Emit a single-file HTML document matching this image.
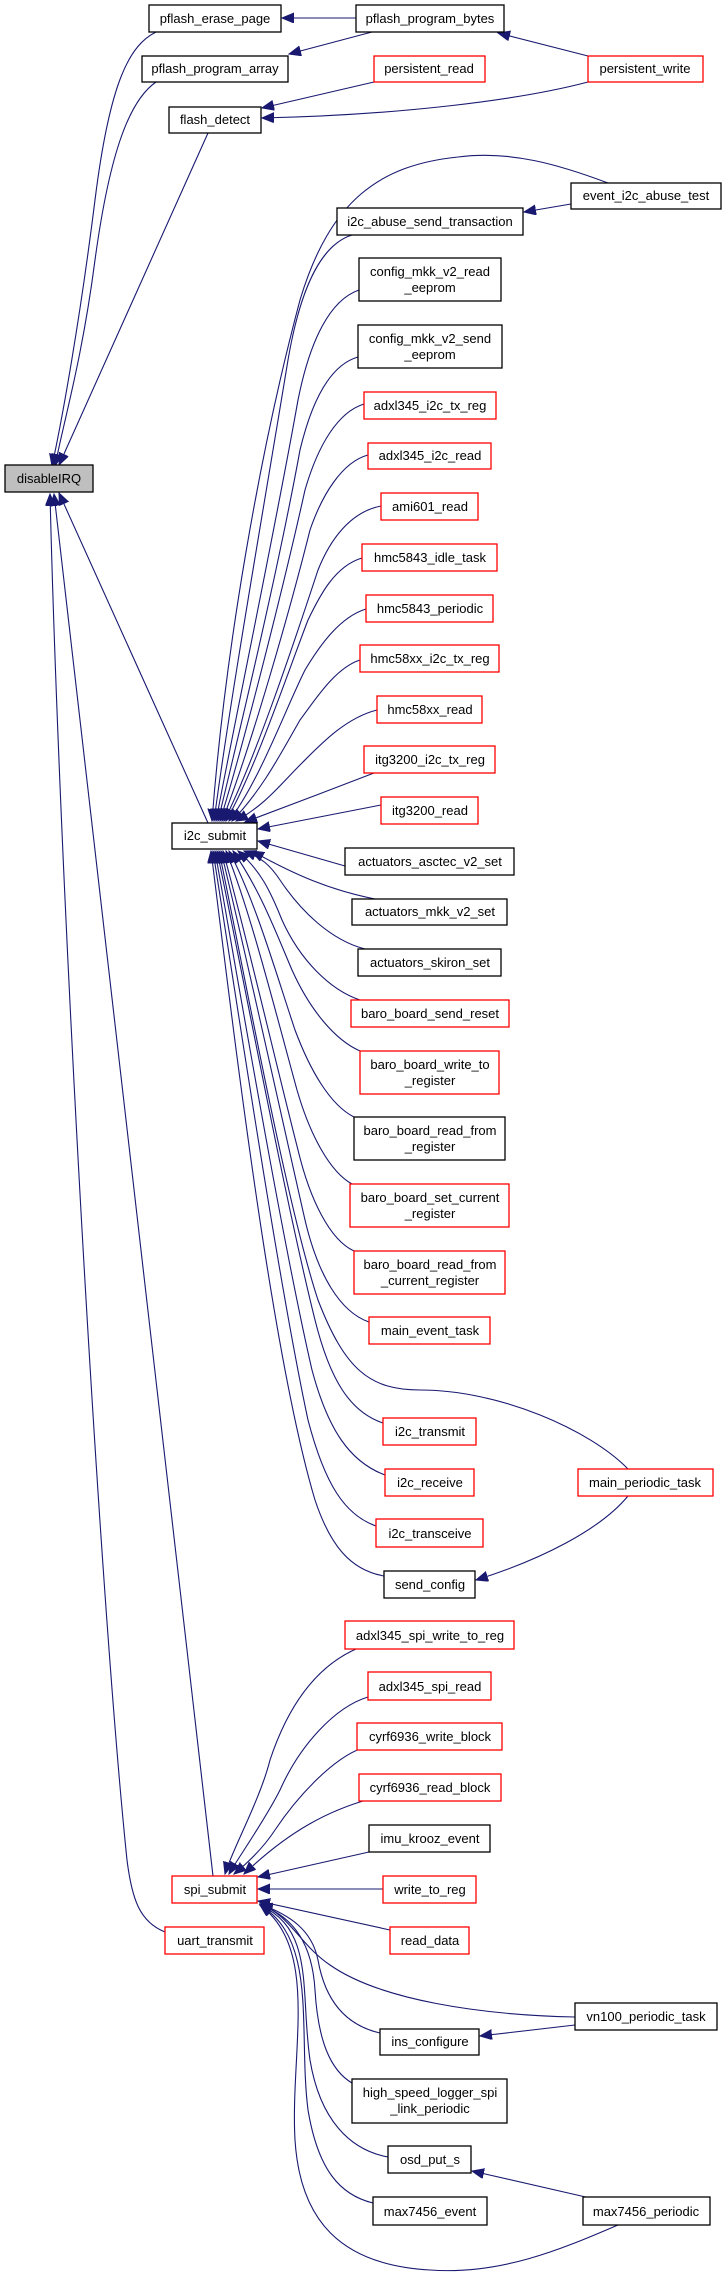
<!DOCTYPE html>
<html><head><meta charset="utf-8"><style>
html,body{margin:0;padding:0;background:#fff;}
svg{display:block;}
text{font-family:"Liberation Sans",sans-serif;font-size:13px;fill:#000;text-anchor:middle;}
.k{fill:#fff;stroke:#000;stroke-width:1.3;}
.r{fill:#fff;stroke:#ff0000;stroke-width:1.3;}
.g{fill:#bfbfbf;stroke:#000;stroke-width:1.3;}
path{fill:none;stroke:#191970;stroke-width:1.1;}
</style></head><body>
<svg width="725" height="2273" viewBox="0 0 725 2273" xmlns="http://www.w3.org/2000/svg">
<defs><marker id="a" markerUnits="userSpaceOnUse" markerWidth="14" markerHeight="12" refX="12" refY="5" orient="auto"><path d="M0,0 L12,5 L0,10 Z" style="fill:#191970;stroke:#191970;stroke-width:1"/></marker></defs>
<g marker-end="url(#a)">
<!-- into disableIRQ -->
<path d="M156,32 C130,45 110,80 95,200 C80,320 62,420 52,466"/>
<path d="M156,82 C130,100 110,150 95,260 C82,360 64,420 55,466"/>
<path d="M208,133 L59,465"/>
<path d="M208,823 L59,493"/>
<path d="M213,1876 L54,494"/>
<path d="M165,1932 C140,1922 132,1900 127,1860 C100,1600 60,900 50,494"/>
<!-- top cluster -->
<path d="M356,18 L282,18"/>
<path d="M372,32 L289,54"/>
<path d="M588,56 L498,33"/>
<path d="M374,82 L262,108"/>
<path d="M588,82 C520,100 400,115 262,118"/>
<path d="M571,204 L524,212"/>
<!-- into i2c_submit -->
<path d="M608,183 C560,165 510,150 458,157 C380,165 330,200 300,300 C260,450 225,650 212,821"/>
<path d="M352,235 C320,245 300,290 288,360 C265,500 230,700 214,821"/>
<path d="M359,290 C330,300 310,340 298,400 C275,530 235,720 216,821"/>
<path d="M358,357 C330,365 312,400 300,450 C280,560 240,730 218,821"/>
<path d="M364,404 C338,412 318,445 305,490 C285,580 245,740 220,821"/>
<path d="M368,455 C342,462 322,495 310,530 C290,610 250,750 222,821"/>
<path d="M381,506 C350,512 330,540 318,570 C295,640 255,760 224,821"/>
<path d="M362,558 C335,566 320,595 308,620 C285,680 255,770 226,821"/>
<path d="M366,609 C340,617 320,645 305,670 C285,710 260,780 229,821"/>
<path d="M360,660 C335,668 315,700 300,720 C280,755 262,790 232,821"/>
<path d="M377,710 C345,718 320,745 300,765 C280,785 265,805 236,821"/>
<path d="M374,773 C330,790 290,805 245,822"/>
<path d="M381,805 L258,829"/>
<path d="M345,866 L258,841"/>
<path d="M375,899 C330,890 295,875 252,851"/>
<path d="M365,949 C330,940 300,910 280,880 C270,865 262,858 244,851"/>
<path d="M360,1000 C330,990 300,960 282,920 C270,890 260,870 238,851"/>
<path d="M360,1051 C335,1040 310,1010 292,970 C275,930 260,890 233,851"/>
<path d="M354,1117 C330,1105 310,1070 295,1030 C275,970 255,900 229,851"/>
<path d="M352,1184 C330,1172 310,1135 297,1090 C275,1010 250,910 226,851"/>
<path d="M354,1251 C330,1240 310,1200 298,1150 C275,1060 245,930 223,851"/>
<path d="M369,1322 C340,1312 318,1275 305,1220 C280,1110 245,950 221,851"/>
<path d="M628,1469 C590,1430 500,1390 420,1390 C370,1390 345,1370 318,1300 C285,1200 240,950 219,851"/>
<path d="M383,1423 C350,1412 330,1380 315,1320 C285,1200 240,960 217,851"/>
<path d="M385,1475 C350,1462 328,1430 312,1370 C282,1240 238,980 215,851"/>
<path d="M376,1526 C345,1515 325,1485 308,1420 C278,1280 235,990 213,851"/>
<path d="M384,1576 C350,1570 330,1545 315,1500 C270,1350 230,1000 211,851"/>
<path d="M628,1496 C600,1530 540,1560 476,1580"/>
<!-- into spi_submit -->
<path d="M356,1649 C320,1665 290,1700 270,1760 C260,1800 232,1850 225,1874"/>
<path d="M368,1697 C335,1707 300,1745 280,1790 C265,1820 240,1855 229,1874"/>
<path d="M362,1748 C330,1760 295,1800 275,1830 C262,1850 245,1865 234,1874"/>
<path d="M370,1799 C330,1810 290,1830 244,1874"/>
<path d="M369,1852 L258,1877"/>
<path d="M383,1889 L258,1889"/>
<path d="M390,1930 L258,1901"/>
<path d="M575,2017 C480,2015 380,2000 330,1965 C300,1945 290,1915 260,1904"/>
<path d="M380,2033 C345,2025 325,2000 318,1960 C312,1930 290,1915 260,1904"/>
<path d="M352,2083 C330,2070 318,2040 315,1990 C312,1940 290,1915 260,1905"/>
<path d="M388,2157 C350,2150 320,2120 310,2060 C300,1990 315,1930 260,1905"/>
<path d="M373,2203 C340,2195 318,2170 308,2110 C298,2030 318,1940 260,1905"/>
<path d="M618,2225 C560,2250 500,2275 430,2270 C340,2265 300,2220 295,2140 C290,2050 320,1950 260,1905"/>
<path d="M575,2025 L480,2036"/>
<path d="M590,2198 L472,2171"/>
</g>
<!-- nodes -->
<rect class="g" x="5" y="465" width="88" height="27"/><text x="49" y="483">disableIRQ</text>
<rect class="k" x="149" y="5" width="132" height="27"/><text x="215" y="23">pflash_erase_page</text>
<rect class="k" x="356" y="5" width="148" height="27"/><text x="430" y="23">pflash_program_bytes</text>
<rect class="k" x="142" y="56" width="146" height="26"/><text x="215" y="73">pflash_program_array</text>
<rect class="r" x="374" y="56" width="111" height="26"/><text x="429" y="73">persistent_read</text>
<rect class="r" x="588" y="56" width="115" height="26"/><text x="645" y="73">persistent_write</text>
<rect class="k" x="169" y="107" width="92" height="26"/><text x="215" y="124">flash_detect</text>
<rect class="k" x="571" y="183" width="150" height="26"/><text x="646" y="200">event_i2c_abuse_test</text>
<rect class="k" x="337" y="208" width="186" height="27"/><text x="430" y="226">i2c_abuse_send_transaction</text>
<rect class="k" x="359" y="258" width="142" height="43"/><text x="430" y="276">config_mkk_v2_read</text><text x="430" y="292">_eeprom</text>
<rect class="k" x="358" y="325" width="144" height="43"/><text x="430" y="343">config_mkk_v2_send</text><text x="430" y="359">_eeprom</text>
<rect class="r" x="364" y="392" width="132" height="27"/><text x="430" y="410">adxl345_i2c_tx_reg</text>
<rect class="r" x="368" y="443" width="123" height="26"/><text x="430" y="460">adxl345_i2c_read</text>
<rect class="r" x="381" y="493" width="97" height="27"/><text x="430" y="511">ami601_read</text>
<rect class="r" x="362" y="544" width="135" height="27"/><text x="430" y="562">hmc5843_idle_task</text>
<rect class="r" x="366" y="595" width="127" height="27"/><text x="430" y="613">hmc5843_periodic</text>
<rect class="r" x="360" y="645" width="139" height="27"/><text x="430" y="663">hmc58xx_i2c_tx_reg</text>
<rect class="r" x="377" y="696" width="105" height="27"/><text x="430" y="714">hmc58xx_read</text>
<rect class="r" x="364" y="746" width="131" height="27"/><text x="430" y="764">itg3200_i2c_tx_reg</text>
<rect class="r" x="381" y="797" width="97" height="27"/><text x="430" y="815">itg3200_read</text>
<rect class="k" x="172" y="823" width="85" height="26"/><text x="215" y="840">i2c_submit</text>
<rect class="k" x="345" y="848" width="169" height="27"/><text x="430" y="866">actuators_asctec_v2_set</text>
<rect class="k" x="352" y="899" width="155" height="26"/><text x="430" y="916">actuators_mkk_v2_set</text>
<rect class="k" x="358" y="949" width="143" height="27"/><text x="430" y="967">actuators_skiron_set</text>
<rect class="r" x="351" y="1000" width="158" height="27"/><text x="430" y="1018">baro_board_send_reset</text>
<rect class="r" x="360" y="1051" width="139" height="43"/><text x="430" y="1069">baro_board_write_to</text><text x="430" y="1085">_register</text>
<rect class="k" x="354" y="1117" width="151" height="43"/><text x="430" y="1135">baro_board_read_from</text><text x="430" y="1151">_register</text>
<rect class="r" x="350" y="1184" width="159" height="43"/><text x="430" y="1202">baro_board_set_current</text><text x="430" y="1218">_register</text>
<rect class="r" x="354" y="1251" width="151" height="43"/><text x="430" y="1269">baro_board_read_from</text><text x="430" y="1285">_current_register</text>
<rect class="r" x="369" y="1317" width="121" height="27"/><text x="430" y="1335">main_event_task</text>
<rect class="r" x="383" y="1418" width="93" height="27"/><text x="430" y="1436">i2c_transmit</text>
<rect class="r" x="385" y="1469" width="89" height="27"/><text x="430" y="1487">i2c_receive</text>
<rect class="r" x="376" y="1519" width="107" height="28"/><text x="430" y="1538">i2c_transceive</text>
<rect class="r" x="578" y="1469" width="135" height="27"/><text x="645" y="1487">main_periodic_task</text>
<rect class="k" x="384" y="1571" width="91" height="27"/><text x="430" y="1589">send_config</text>
<rect class="r" x="345" y="1621" width="169" height="28"/><text x="430" y="1640">adxl345_spi_write_to_reg</text>
<rect class="r" x="368" y="1672" width="123" height="28"/><text x="430" y="1691">adxl345_spi_read</text>
<rect class="r" x="357" y="1723" width="145" height="27"/><text x="430" y="1741">cyrf6936_write_block</text>
<rect class="r" x="359" y="1774" width="142" height="27"/><text x="430" y="1792">cyrf6936_read_block</text>
<rect class="k" x="369" y="1825" width="121" height="27"/><text x="430" y="1843">imu_krooz_event</text>
<rect class="r" x="383" y="1876" width="93" height="27"/><text x="430" y="1894">write_to_reg</text>
<rect class="r" x="390" y="1927" width="79" height="27"/><text x="430" y="1945">read_data</text>
<rect class="r" x="172" y="1876" width="85" height="27"/><text x="215" y="1894">spi_submit</text>
<rect class="r" x="165" y="1927" width="99" height="27"/><text x="215" y="1945">uart_transmit</text>
<rect class="k" x="575" y="2003" width="142" height="27"/><text x="646" y="2021">vn100_periodic_task</text>
<rect class="k" x="380" y="2029" width="99" height="26"/><text x="430" y="2046">ins_configure</text>
<rect class="k" x="352" y="2079" width="155" height="44"/><text x="430" y="2097">high_speed_logger_spi</text><text x="430" y="2113">_link_periodic</text>
<rect class="k" x="388" y="2146" width="83" height="27"/><text x="430" y="2164">osd_put_s</text>
<rect class="k" x="373" y="2197" width="114" height="28"/><text x="430" y="2216">max7456_event</text>
<rect class="k" x="583" y="2197" width="127" height="28"/><text x="646" y="2216">max7456_periodic</text>
</svg>
</body></html>
